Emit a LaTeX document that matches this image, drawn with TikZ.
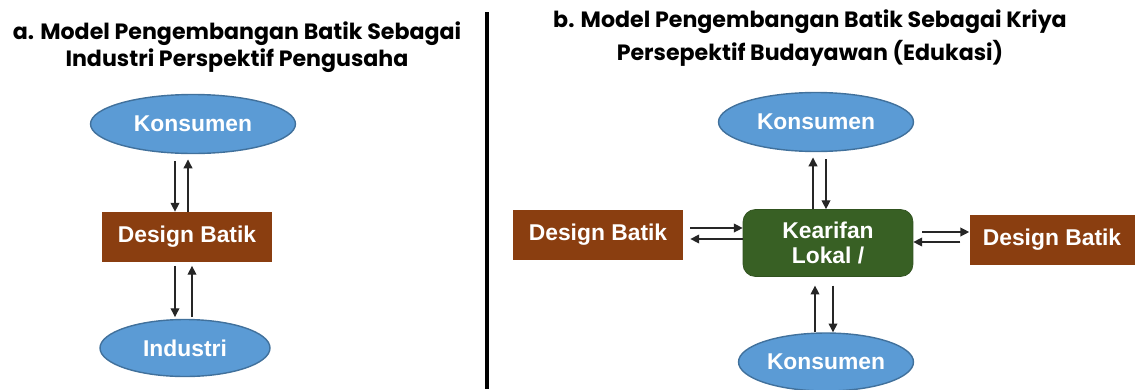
\documentclass[tikz,border=0pt]{standalone}
\usepackage{fontspec}
\newfontfamily\titlefont{Poppins}
\newfontfamily\boxfont{Liberation Sans}
\usetikzlibrary{shapes.geometric, arrows.meta}

\definecolor{ellblue}{RGB}{91,155,213}
\definecolor{ellborder}{RGB}{65,113,156}
\definecolor{batikbrown}{RGB}{138,62,16}
\definecolor{lokalgreen}{RGB}{56,96,36}

\begin{document}
\begin{tikzpicture}[x=0.02cm, y=-0.02cm,
    boxtext/.style={text=white, font=\boxfont\bfseries\fontsize{13}{14.5}\selectfont},
    konsumen/.style={boxtext, ellipse, fill=ellblue, draw=ellborder, line width=0.8pt,
        inner sep=0pt, minimum width=3.9cm, minimum height=1.18cm},
    batik/.style={boxtext, rectangle, fill=batikbrown, inner sep=0pt,
        minimum width=3.4cm, minimum height=1cm},
    lokal/.style={boxtext, rectangle, rounded corners=7pt, fill=lokalgreen, draw=lokalgreen!85!black,
        align=center, inner sep=0pt, minimum width=3.4cm, minimum height=1.34cm},
    titletext/.style={font=\titlefont\bfseries\fontsize{12.6}{14}\selectfont, align=center},
    flow/.style={-{Triangle[length=5pt, width=5pt]}, line width=0.7pt, black!85}
]
    %--------------------%
    % Parameters
    %--------------------%
    \def\u{0.02cm}

    \useasboundingbox (0,0) rectangle (1135,389);

    %--------------------%
    % Divider
    %--------------------%
    \draw[line width=2.3pt] (487,12) -- (487,389);

    %--------------------%
    % Titles
    %--------------------%
    \node[titletext] (titleA) at (237,47)
        {a. Model Pengembangan Batik Sebagai\\[1.5pt] Industri Perspektif Pengusaha};
    \node[titletext] (titleB) at (810,38)
        {b. Model Pengembangan Batik Sebagai Kriya\\[3pt] Persepektif Budayawan (Edukasi)};

    %--------------------%
    % Model a
    %--------------------%
    \node[konsumen, minimum width=4.1cm] (konsA) at (193,124) {Konsumen};
    \node[batik] (batikA) at (187,237) {Design Batik};
    \node[konsumen, minimum width=3.4cm, minimum height=1.14cm] (industri) at (185,348) {Industri};

    \draw[flow, shorten <=4pt] ([xshift=-18*\u]konsA.south) -- ([xshift=-12*\u]batikA.north);
    \draw[flow, shorten >=3pt] ([xshift=1*\u]batikA.north) -- ([xshift=-5*\u]konsA.south);
    \draw[flow, shorten <=2pt, shorten >=1pt] ([xshift=-12*\u]batikA.south) -- ([xshift=-10*\u]industri.north);
    \draw[flow, shorten <=1pt, shorten >=2pt] ([xshift=7*\u]industri.north) -- ([xshift=5*\u]batikA.south);

    %--------------------%
    % Model b
    %--------------------%
    \node[lokal] (lokal) at (828,243) {Kearifan\\Lokal /};
    \node[konsumen] (konsTop) at (816,122) {Konsumen};
    \node[konsumen, minimum width=3.5cm, minimum height=1.16cm] (konsBot) at (826,362) {Konsumen};
    \node[batik] (batikL) at (598,235) {Design Batik};
    \node[batik, minimum width=3.3cm] (batikR) at (1052,240) {Design Batik};

    % top pair
    \draw[flow, shorten >=3pt] ([xshift=-15*\u]lokal.north) -- ([xshift=-3*\u]konsTop.south);
    \draw[flow, shorten <=4pt] ([xshift=10*\u]konsTop.south) -- ([xshift=-2*\u]lokal.north);
    % bottom pair
    \draw[flow, shorten >=5pt] ([xshift=-11*\u]konsBot.north) -- ([xshift=-13*\u]lokal.south);
    \draw[flow, shorten <=5pt] ([xshift=5*\u]lokal.south) -- ([xshift=7*\u]konsBot.north);
    % left pair
    \draw[flow, shorten <=4pt] ([yshift=7*\u]batikL.east) -- ([yshift=15*\u]lokal.west);
    \draw[flow, shorten >=4pt] ([yshift=4*\u]lokal.west) -- ([yshift=-4*\u]batikL.east);
    % right pair
    \draw[flow, shorten <=5pt] ([yshift=11*\u]lokal.east) -- ([yshift=8*\u]batikR.west);
    \draw[flow, shorten <=5pt] ([yshift=-2*\u]batikR.west) -- ([yshift=1*\u]lokal.east);
\end{tikzpicture}
\end{document}
